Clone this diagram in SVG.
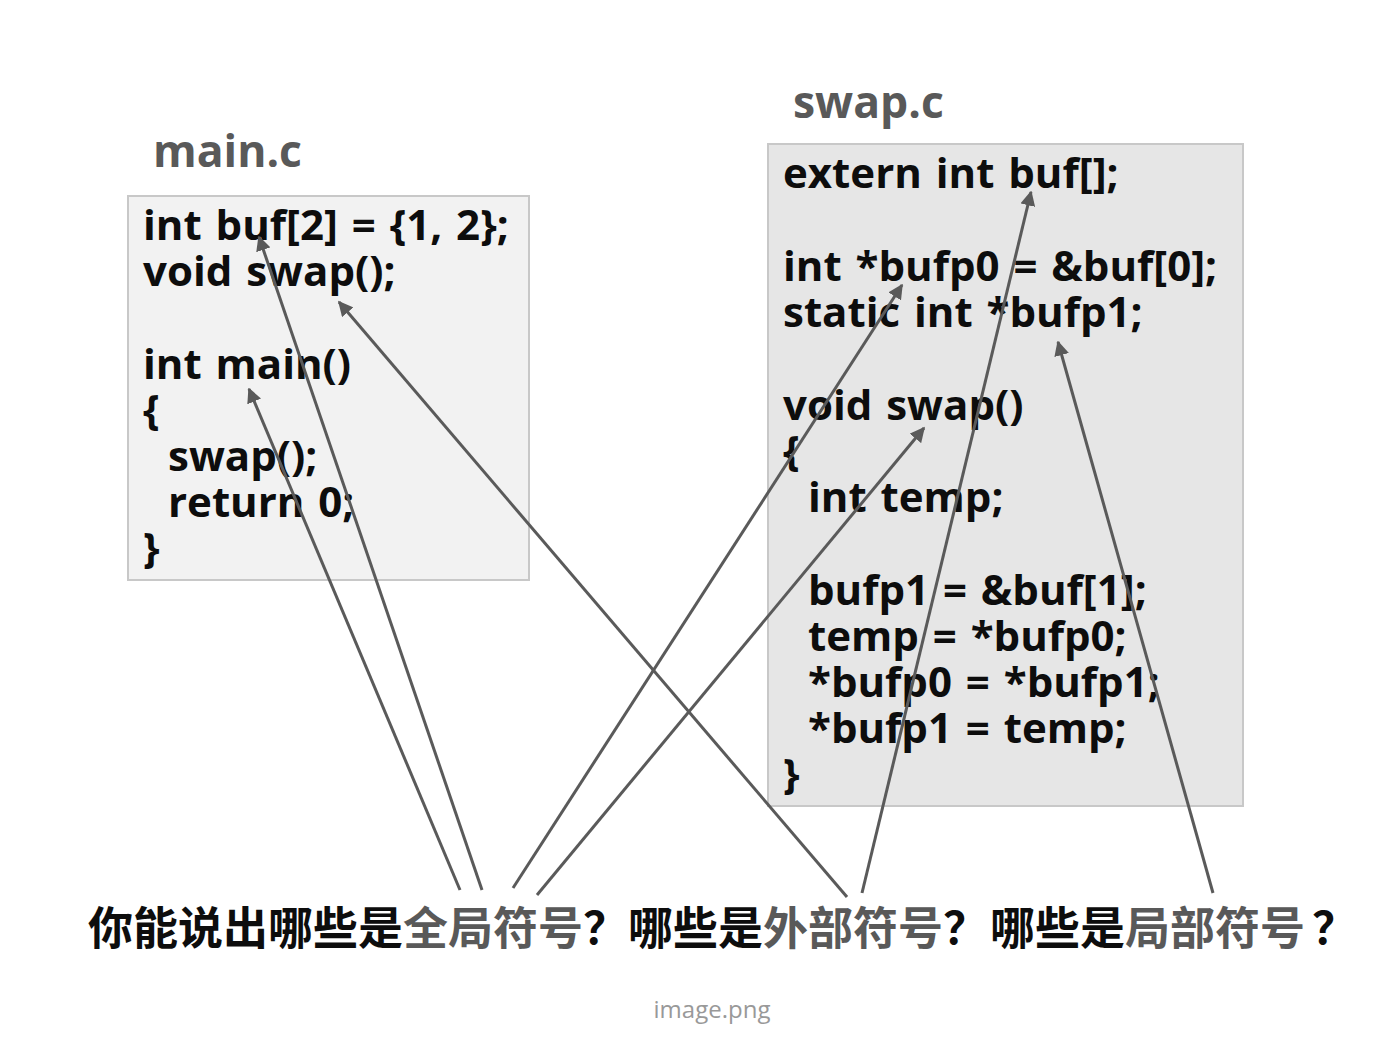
<svg xmlns="http://www.w3.org/2000/svg" width="1380" height="1050" viewBox="0 0 1380 1050">
<style>
.code{font-family:"Open Sans","Noto Sans",sans-serif;font-weight:700;font-size:42px;word-spacing:3px;fill:#0d0d0d}
.title{font-family:"Open Sans","Noto Sans",sans-serif;font-weight:700;font-size:44.5px;fill:#595959}
.q{font-family:"Noto Sans CJK SC","Noto Sans",sans-serif;font-weight:700;font-size:45px;fill:#0d0d0d}
.g{fill:#595959}
.cap{font-family:"Open Sans","Noto Sans",sans-serif;font-size:24px;fill:#999}
.arr{stroke:#5a5a5a;stroke-width:3;fill:none;marker-end:url(#ah)}
</style>
<defs>
<marker id="ah" viewBox="0 0 10 10" refX="9" refY="5" markerWidth="5" markerHeight="5" orient="auto" markerUnits="strokeWidth">
<path d="M0,0 L10,5 L0,10 z" fill="#5a5a5a"/>
</marker>
</defs>
<rect width="1380" height="1050" fill="#fff"/>
<g id="main-c">
<text class="title" x="153" y="167">main.c</text>
<rect x="128" y="196" width="401" height="384" fill="#f2f2f2" stroke="#c8c8c8" stroke-width="2"/>
<text class="code" x="143" y="240">int buf[2] = {1, 2};</text>
<text class="code" x="143" y="286">void swap();</text>
<text class="code" x="143" y="379">int main()</text>
<text class="code" x="143" y="425">{</text>
<text class="code" x="168" y="471">swap();</text>
<text class="code" x="168" y="517">return 0;</text>
<text class="code" x="143" y="563">}</text>
</g>
<g id="swap-c">
<text class="title" x="793" y="118">swap.c</text>
<rect x="768" y="144" width="475" height="662" fill="#e6e6e6" stroke="#c8c8c8" stroke-width="2"/>
<text class="code" x="783" y="188">extern int buf[];</text>
<text class="code" x="783" y="281">int *bufp0 = &amp;buf[0];</text>
<text class="code" x="783" y="327">static int *bufp1;</text>
<text class="code" x="783" y="420">void swap()</text>
<text class="code" x="783" y="466">{</text>
<text class="code" x="808" y="512">int temp;</text>
<text class="code" x="808" y="605">bufp1 = &amp;buf[1];</text>
<text class="code" x="808" y="651">temp = *bufp0;</text>
<text class="code" x="808" y="697">*bufp0 = *bufp1;</text>
<text class="code" x="808" y="743">*bufp1 = temp;</text>
<text class="code" x="783" y="789">}</text>
</g>
<g id="connectors">
<line class="arr" x1="460" y1="890" x2="249" y2="389"/>
<line class="arr" x1="482" y1="890" x2="259" y2="237"/>
<line class="arr" x1="513" y1="888" x2="902" y2="285"/>
<line class="arr" x1="537" y1="895" x2="924" y2="428"/>
<line class="arr" x1="847" y1="897" x2="339" y2="302"/>
<line class="arr" x1="862" y1="893" x2="1031" y2="192"/>
<line class="arr" x1="1213" y1="893" x2="1058" y2="342"/>
</g>
<g id="question">
<text class="q" y="945"><tspan x="88">你能说出哪些是</tspan><tspan class="g" x="403">全局符号</tspan><tspan x="583">？</tspan><tspan x="628">哪些是</tspan><tspan class="g" x="763">外部符号</tspan><tspan x="943">？</tspan><tspan x="990">哪些是</tspan><tspan class="g" x="1125">局部符号</tspan><tspan x="1312">？</tspan></text>
</g>
<text class="cap" x="712" y="1018" text-anchor="middle">image.png</text>
</svg>
